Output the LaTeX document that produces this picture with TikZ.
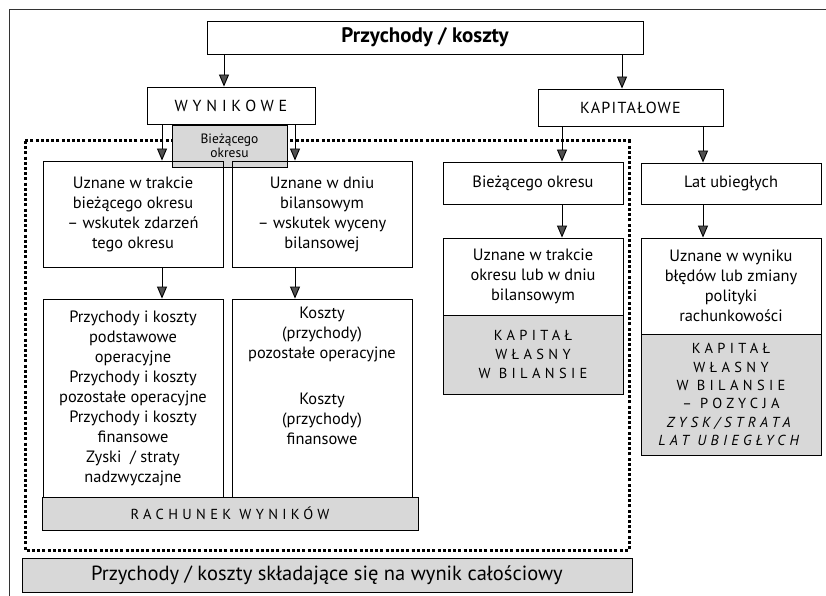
\documentclass[tikz,border=0pt]{standalone}
\usepackage{fontspec}
\setmainfont{PT Sans}
\newfontfamily\spaced[LetterSpace=30]{PT Sans}
\newfontfamily\lspaced[LetterSpace=8]{PT Sans}
\usetikzlibrary{arrows.meta}
\definecolor{shade}{RGB}{216,216,216}
\definecolor{tipc}{RGB}{80,80,80}
\begin{document}
\begin{tikzpicture}[x=1pt,y=-1pt,
  box/.style={draw, line width=0.9pt, minimum width=180pt, align=center, inner sep=0pt,
              font=\fontsize{16.4}{20}\selectfont},
  graybox/.style={box, fill=shade},
  caps/.style={font=\spaced\fontsize{14.5}{19}\selectfont},
  arr/.style={line width=0.9pt, -{Triangle[width=10pt,length=12pt,fill=tipc]}},
  dots/.style={line width=3pt, dash pattern=on 3pt off 2.2pt},
  frame/.style={line width=0.8pt, draw=black!80}]
\useasboundingbox (0,0) rectangle (826,596);
% outer frame
\draw[frame] (826,9) -- (9,9) -- (9,596);
% dotted region
\draw[dots] (25,141) rectangle (629,550);
% top level
\node[box, minimum width=436pt, minimum height=33pt, font=\fontsize{21}{24}\selectfont\bfseries] (top) at (425,37.5) {Przychody / koszty};
\node[box, minimum width=168pt, minimum height=37pt, font=\spaced\fontsize{16}{20}\selectfont] (wyn) at (231,105.5) {WYNIKOWE};
\node[box, minimum width=185pt, minimum height=37pt, font=\lspaced\fontsize{16}{20}\selectfont] (kap) at (630.5,107.5) {KAPITAŁOWE};
\node[graybox, minimum width=115pt, minimum height=42pt, font=\fontsize{13.5}{14.5}\selectfont] (biez) at (229.5,146) {Bieżącego\\okresu};
% left column
\node[box, minimum height=106pt] (a1) at (133,214) {Uznane w trakcie\\bieżącego okresu\\– wskutek zdarzeń\\tego okresu};
\node[box, minimum height=106pt] (b1) at (322,214) {Uznane w dniu\\bilansowym\\– wskutek wyceny\\bilansowej};
\node[box, minimum height=198pt] (a2) at (133,398) {Przychody i koszty\\podstawowe\\operacyjne\\Przychody i koszty\\pozostałe operacyjne\\Przychody i koszty\\finansowe\\Zyski \ / straty\\nadzwyczajne};
\node[box, minimum height=198pt] (b2) at (322,398) {};
\node[anchor=north, align=center, inner sep=0pt, font=\fontsize{16.4}{20}\selectfont] (b2t) at ([yshift=-8pt]b2.north) {Koszty\\(przychody)\\pozostałe operacyjne\\[26pt]Koszty\\(przychody)\\finansowe};
\node[graybox, minimum width=376pt, minimum height=33pt, caps] (rach) at (230,513.5) {RACHUNEK WYNIKÓW};
% middle column
\node[box, minimum height=42pt] (c1) at (533,183) {Bieżącego okresu};
\node[box, minimum height=77pt] (c2) at (533,276.5) {Uznane w trakcie\\okresu lub w dniu\\bilansowym};
\node[graybox, minimum height=79pt, caps] (c3) at (533,354.5) {KAPITAŁ\\WŁASNY\\W BILANSIE};
% right column
\node[box, minimum height=41pt] (d1) at (731,183.5) {Lat ubiegłych};
\node[box, minimum height=96pt] (d2) at (731,286) {Uznane w wyniku\\błędów lub zmiany\\polityki\\rachunkowości};
\node[graybox, minimum height=121pt, font=\spaced\fontsize{14.5}{18.3}\selectfont] (d3) at (731,394.5) {KAPITAŁ\\WŁASNY\\W BILANSIE\\– POZYCJA\\\textit{ZYSK/STRATA}\\\textit{LAT UBIEGŁYCH}};
% bottom
\node[graybox, minimum width=610pt, minimum height=34pt, font=\fontsize{20.5}{24}\selectfont] (bot) at (327,575) {Przychody / koszty składające się na wynik całościowy};
% arrow columns
\coordinate (xa) at (224,0);
\coordinate (xb) at (622,0);
\coordinate (xl) at (162,0);
\coordinate (xr) at (295,0);
\coordinate (xm) at (562,0);
\coordinate (xn) at (703,0);
\draw[arr] (top.south -| xa) -- (wyn.north -| xa);
\draw[arr] (top.south -| xb) -- (kap.north -| xb);
\draw[arr] (wyn.south -| xl) -- (a1.north -| xl);
\draw[arr] (wyn.south -| xr) -- (b1.north -| xr);
\draw[arr] (a1.south -| xl) -- (a2.north -| xl);
\draw[arr] (b1.south -| xr) -- (b2.north -| xr);
\draw[arr] (kap.south -| xm) -- (c1.north -| xm);
\draw[arr] (kap.south -| xn) -- (d1.north -| xn);
\draw[arr] (c1.south -| xm) -- (c2.north -| xm);
\draw[arr] (d1.south -| xn) -- (d2.north -| xn);
\end{tikzpicture}
\end{document}
